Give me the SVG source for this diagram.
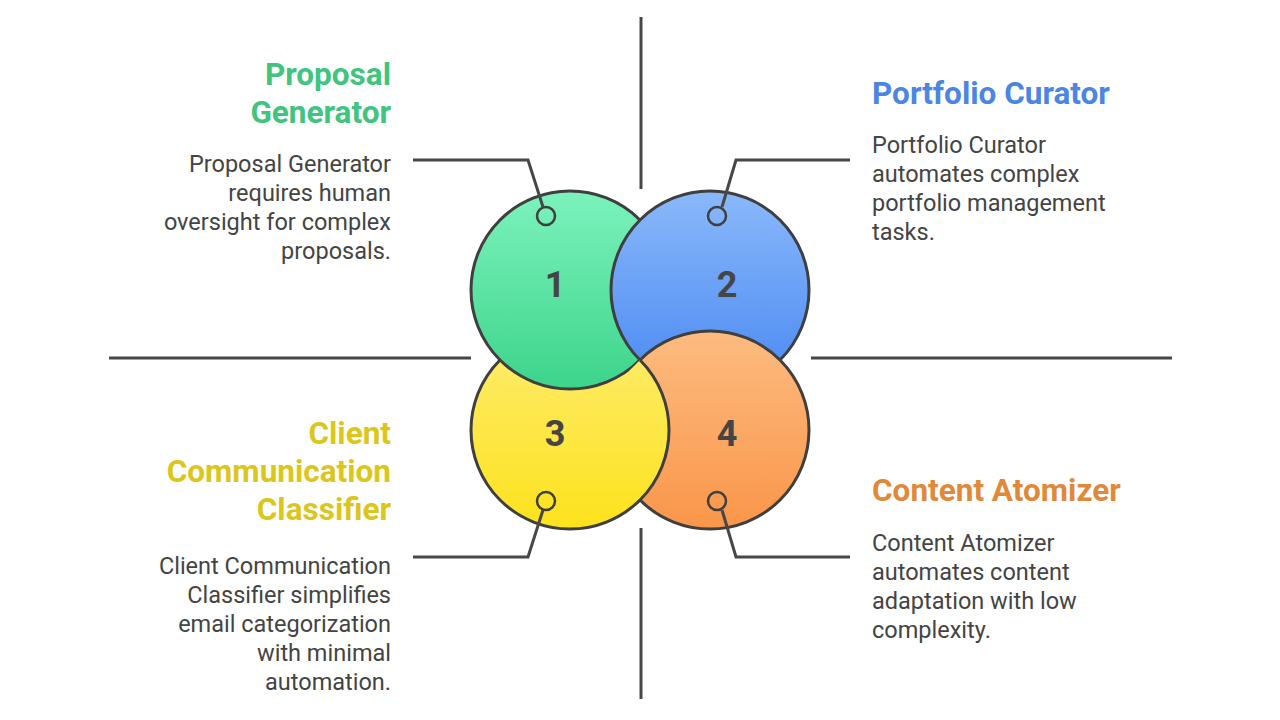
<svg xmlns="http://www.w3.org/2000/svg" width="1280" height="720" viewBox="0 0 1280 720">
<defs>
<linearGradient id="gGreen" x1="0" y1="0" x2="0" y2="1"><stop offset="0" stop-color="#7cf2bd"/><stop offset="1" stop-color="#3dd48a"/></linearGradient>
<linearGradient id="gBlue" x1="0" y1="0" x2="0" y2="1"><stop offset="0" stop-color="#8ab8fa"/><stop offset="1" stop-color="#4a89f2"/></linearGradient>
<linearGradient id="gYellow" x1="0" y1="0" x2="0" y2="1"><stop offset="0" stop-color="#fdec70"/><stop offset="1" stop-color="#fde21c"/></linearGradient>
<linearGradient id="gOrange" x1="0" y1="0" x2="0" y2="1"><stop offset="0" stop-color="#fdbb80"/><stop offset="1" stop-color="#f9964a"/></linearGradient>
<clipPath id="clip4"><circle cx="710" cy="430" r="103"/></clipPath>
<clipPath id="clipHalf"><polygon points="1000,0 1280,0 1280,720 280,720"/></clipPath>
<style>
.ring{stroke:#3f3f3f;stroke-width:3}
.line{stroke:#474747;stroke-width:3;fill:none}
.pin{fill:none;stroke:#3f3f3f;stroke-width:2.5}
.num{font-family:Roboto,"Liberation Sans",sans-serif;font-weight:700;font-size:36px;fill:#454545;text-anchor:middle}
.title{font-family:Roboto,"Liberation Sans",sans-serif;font-weight:700;font-size:31.5px}
.body{font-family:Roboto,"Liberation Sans",sans-serif;font-size:23.5px;fill:#444}
.r{text-anchor:end}
</style>
</defs>
<rect width="1280" height="720" fill="#ffffff"/>
<g id="dividers">
<line class="line" x1="641" y1="17" x2="641" y2="189"/>
<line class="line" x1="641" y1="528" x2="641" y2="699"/>
<line class="line" x1="109" y1="358" x2="471" y2="358"/>
<line class="line" x1="811" y1="358" x2="1172" y2="358"/>
</g>
<g id="node3"><circle class="ring" cx="570" cy="430" r="99" fill="url(#gYellow)"/></g>
<g id="node1"><circle class="ring" cx="570" cy="290" r="99" fill="url(#gGreen)"/></g>
<g id="node2"><circle class="ring" cx="710" cy="290" r="99" fill="url(#gBlue)"/></g>
<g id="node4"><circle class="ring" cx="710" cy="430" r="99" fill="url(#gOrange)"/></g>
<g id="node3-overlap" clip-path="url(#clipHalf)"><g clip-path="url(#clip4)"><circle class="ring" cx="570" cy="430" r="99" fill="url(#gYellow)"/></g></g>
<g id="numbers">
<text class="num" x="555" y="297">1</text>
<text class="num" x="727" y="297">2</text>
<text class="num" x="555" y="446">3</text>
<text class="num" x="727" y="446">4</text>
</g>
<g id="connectors">
<polyline class="line" points="413,160 528,160 543,207"/>
<circle class="pin" cx="546" cy="216" r="9"/>
<polyline class="line" points="850,160 736,160 722,207"/>
<circle class="pin" cx="717" cy="216" r="9"/>
<polyline class="line" points="413,557 528,557 543,510"/>
<circle class="pin" cx="546" cy="501" r="9"/>
<polyline class="line" points="850,557 736,557 722,510"/>
<circle class="pin" cx="717" cy="501" r="9"/>
</g>
<g id="label1">
<text class="title r" x="391" y="85" fill="#40c47e">Proposal</text>
<text class="title r" x="391" y="123" fill="#40c47e">Generator</text>
<text class="body r" x="391" y="172">Proposal Generator</text>
<text class="body r" x="391" y="201">requires human</text>
<text class="body r" x="391" y="230">oversight for complex</text>
<text class="body r" x="391" y="259">proposals.</text>
</g>
<g id="label2">
<text class="title" x="872" y="104" fill="#4a86e2">Portfolio Curator</text>
<text class="body" x="872" y="153">Portfolio Curator</text>
<text class="body" x="872" y="182">automates complex</text>
<text class="body" x="872" y="211">portfolio management</text>
<text class="body" x="872" y="240">tasks.</text>
</g>
<g id="label3">
<text class="title r" x="391" y="444" fill="#dcc61c">Client</text>
<text class="title r" x="391" y="482" fill="#dcc61c">Communication</text>
<text class="title r" x="391" y="520" fill="#dcc61c">Classifier</text>
<text class="body r" x="391" y="574">Client Communication</text>
<text class="body r" x="391" y="603">Classifier simplifies</text>
<text class="body r" x="391" y="632">email categorization</text>
<text class="body r" x="391" y="661">with minimal</text>
<text class="body r" x="391" y="690">automation.</text>
</g>
<g id="label4">
<text class="title" x="872" y="501" fill="#e0893a">Content Atomizer</text>
<text class="body" x="872" y="551">Content Atomizer</text>
<text class="body" x="872" y="580">automates content</text>
<text class="body" x="872" y="609">adaptation with low</text>
<text class="body" x="872" y="638">complexity.</text>
</g>
</svg>
